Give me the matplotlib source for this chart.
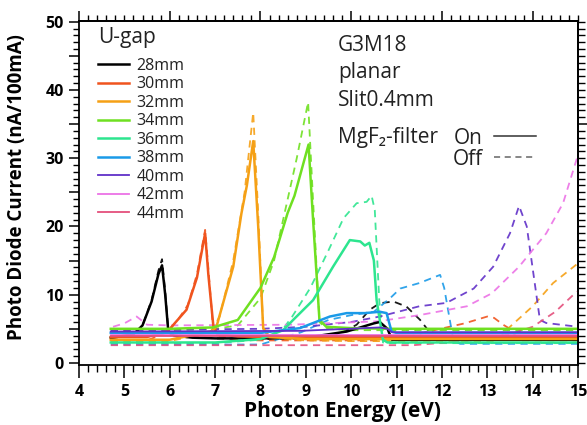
import matplotlib
matplotlib.use("Agg")
import matplotlib.pyplot as plt
from matplotlib.ticker import MultipleLocator, FixedLocator, FuncFormatter, NullFormatter
from matplotlib.lines import Line2D

plt.rcParams['font.family'] = ['Open Sans', 'DejaVu Sans']

# ---------------- data ----------------
gaps = ["28mm", "30mm", "32mm", "34mm", "36mm", "38mm", "40mm", "42mm", "44mm"]
colors = ["#000000", "#f0541e", "#f5a015", "#6fe021", "#2de58f",
          "#1a9ae8", "#6030c8", "#ec72e6", "#e44f7c"]

# MgF2 filter ON (solid)
x28_on = [4.7, 5.2, 5.4, 5.6, 5.75, 5.83, 5.9, 5.97, 6.1, 6.5, 7, 8, 9, 9.6, 9.9, 10.2, 10.5, 10.63, 10.8, 10.9, 15]
y28_on = [3.7, 4.2, 5.5, 9.0, 13.0, 14.3, 10.0, 4.5, 4.0, 3.7, 3.6, 3.6, 3.7, 4.3, 4.6, 5.2, 5.8, 6.0, 5.0, 3.4, 3.4]
x30_on = [4.7, 5.5, 5.95, 6.2, 6.37, 6.6, 6.78, 6.85, 6.96, 7.05, 7.5, 8, 9, 10, 10.9, 15]
y30_on = [3.8, 3.8, 4.6, 6.5, 7.8, 12.5, 19.0, 13.0, 5.5, 4.2, 3.9, 3.8, 3.8, 3.8, 3.8, 3.8]
x32_on = [4.7, 6, 6.9, 7.03, 7.4, 7.58, 7.7, 7.84, 7.95, 8.06, 8.2, 9, 10, 10.9, 15]
y32_on = [3.4, 3.4, 4.6, 5.3, 14.1, 21.9, 26.0, 32.5, 20.0, 5.1, 3.8, 3.5, 3.5, 3.5, 3.5]
x34_on = [4.7, 6, 6.95, 7.5, 8.0, 8.3, 8.6, 8.75, 9.06, 9.15, 9.3, 9.45, 10, 10.9, 15]
y34_on = [5.0, 5.0, 5.2, 6.3, 11.0, 15.5, 22.0, 24.5, 32.0, 22.0, 6.3, 5.3, 5.1, 5.0, 5.0]
x36_on = [4.7, 7, 8.0, 8.5, 8.72, 9.16, 9.6, 9.97, 10.2, 10.3, 10.4, 10.5, 10.56, 10.7, 10.8, 15]
y36_on = [3.0, 3.0, 3.5, 4.8, 6.3, 9.2, 14.1, 18.0, 17.8, 17.2, 17.6, 15.0, 9.2, 3.4, 3.0, 3.0]
x38_on = [4.7, 8, 8.87, 9.53, 9.9, 10.3, 10.63, 10.78, 10.89, 11.0, 15]
y38_on = [4.4, 4.4, 5.1, 6.8, 7.3, 7.3, 7.5, 7.3, 4.6, 4.4, 4.4]
x40_on = [4.7, 8.87, 10.63, 10.8, 10.9, 15]
y40_on = [4.6, 4.7, 5.2, 5.0, 4.5, 4.5]
x42_on = [4.7, 10.9, 15]
y42_on = [4.1, 4.1, 4.1]
x44_on = [4.7, 10.9, 15]
y44_on = [3.9, 3.9, 3.9]

# MgF2 filter OFF (dashed)
x28_off = [4.7, 5.2, 5.4, 5.6, 5.75, 5.83, 5.9, 5.97, 6.1, 6.5, 7, 8, 9, 9.5, 9.76, 10.12, 10.41, 10.63, 10.93, 11.22, 11.52, 11.66, 11.8, 15]
y28_off = [3.6, 4.1, 5.5, 9.2, 13.5, 15.2, 10.5, 4.6, 4.1, 3.8, 3.6, 3.5, 3.6, 3.9, 4.3, 5.6, 7.8, 8.75, 9.0, 8.25, 6.3, 5.1, 3.6, 3.6]
x30_off = [4.7, 5.5, 5.95, 6.2, 6.4, 6.6, 6.78, 6.85, 6.95, 7.05, 7.5, 8, 9, 10, 11, 11.7, 12.1, 12.5, 13.0, 13.15, 13.35, 13.5, 13.7, 15]
y30_off = [3.3, 3.3, 4.5, 6.5, 8.5, 13.0, 19.5, 14.0, 5.5, 4.0, 3.4, 3.3, 3.3, 3.3, 3.3, 4.6, 5.2, 5.8, 6.8, 6.6, 5.6, 5.0, 3.3, 3.3]
x32_off = [4.7, 6, 6.9, 7.1, 7.4, 7.65, 7.84, 7.95, 8.06, 8.2, 9, 10, 11, 12, 13.2, 13.5, 14.0, 14.45, 15]
y32_off = [3.2, 3.2, 4.5, 6.8, 15.0, 25.0, 36.7, 22.0, 5.0, 3.6, 3.3, 3.2, 3.2, 3.2, 3.2, 5.3, 8.3, 11.7, 14.6]
x34_off = [4.7, 6, 7.0, 7.5, 8.0, 8.3, 8.6, 8.8, 9.05, 9.15, 9.3, 9.45, 10, 11, 15]
y34_off = [4.8, 4.8, 5.0, 5.5, 9.5, 15.0, 24.0, 30.0, 38.2, 25.0, 6.0, 5.0, 4.8, 4.8, 4.8]
x36_off = [4.7, 7, 8.0, 8.5, 8.7, 9.1, 9.5, 9.83, 10.12, 10.34, 10.45, 10.52, 10.62, 10.7, 10.8, 15]
y36_off = [2.9, 2.9, 3.4, 5.0, 6.8, 11.0, 16.5, 21.2, 23.4, 23.6, 24.5, 22.4, 9.0, 3.0, 2.9, 2.9]
x38_off = [4.7, 8, 8.9, 9.5, 10.0, 10.5, 10.86, 11.08, 11.5, 11.96, 12.05, 12.25, 12.4, 15]
y38_off = [2.7, 2.7, 4.5, 6.3, 7.0, 7.5, 9.5, 10.9, 11.7, 12.9, 11.0, 3.4, 2.8, 2.8]
x40_off = [4.7, 8, 9, 10, 10.63, 11.5, 12.1, 12.7, 13.13, 13.5, 13.7, 13.87, 14.16, 14.3, 15]
y40_off = [4.8, 5.0, 5.3, 6.0, 6.8, 8.3, 8.8, 10.9, 14.1, 19.0, 23.0, 20.0, 6.3, 5.85, 5.3]
x42_off = [4.75, 5.0, 5.27, 5.5, 6, 8.65, 10.6, 11.5, 12.55, 13.1, 13.7, 14.3, 14.67, 15]
y42_off = [5.3, 5.8, 6.8, 5.6, 5.5, 5.6, 6.1, 7.0, 8.3, 10.2, 14.1, 19.0, 23.4, 30.5]
x44_off = [4.7, 8, 10, 11.37, 12.84, 13.5, 14.0, 14.5, 14.9, 15]
y44_off = [2.6, 2.6, 2.6, 2.6, 3.4, 4.2, 5.3, 7.5, 10.0, 10.5]

on_series = [(x28_on, y28_on), (x30_on, y30_on), (x32_on, y32_on), (x34_on, y34_on),
             (x36_on, y36_on), (x38_on, y38_on), (x40_on, y40_on), (x42_on, y42_on), (x44_on, y44_on)]
off_series = [(x28_off, y28_off), (x30_off, y30_off), (x32_off, y32_off), (x34_off, y34_off),
              (x36_off, y36_off), (x38_off, y38_off), (x40_off, y40_off), (x42_off, y42_off), (x44_off, y44_off)]
widths = [1.8, 1.8, 1.8, 1.8, 1.8, 1.8, 1.3, 1.3, 1.3]

# ---------------- figure ----------------
fig = plt.figure(figsize=(5.87, 4.25), dpi=100)
ax = fig.add_axes([0.1346, 0.1412, 0.8501, 0.8094])

handles = []
for (xs, ys), c, lw in zip(off_series, colors, widths):
    ax.plot(xs, ys, color=c, lw=1.3, ls=(0, (4, 3)), alpha=0.9)
for (xs, ys), c, lw, g in zip(on_series, colors, widths, gaps):
    h, = ax.plot(xs, ys, color=c, lw=lw, label=g)
    handles.append(h)

ax.set_xlim(4, 15)
ax.set_ylim(-0.3, 50.1)

for s in ax.spines.values():
    s.set_linewidth(1.3)

ax.xaxis.set_major_locator(MultipleLocator(1))
ax.xaxis.set_minor_locator(MultipleLocator(0.2))
ax.yaxis.set_major_locator(MultipleLocator(5))
ax.yaxis.set_minor_locator(MultipleLocator(1))
ax.yaxis.set_major_formatter(FuncFormatter(lambda v, p: f"{int(v)}" if abs(v % 10) < 1e-6 else ""))
ax.tick_params(which='major', direction='out', length=7, width=1.1, labelsize=11.5, pad=4)
ax.tick_params(which='minor', direction='out', length=4, width=1.0)
ax.tick_params(axis='x', which='major', length=9, pad=5)
ax.tick_params(axis='x', which='minor', length=5)
for lab in ax.get_xticklabels() + ax.get_yticklabels():
    lab.set_fontweight('bold')

top = ax.secondary_xaxis('top')
top.xaxis.set_major_locator(MultipleLocator(2))
top.xaxis.set_minor_locator(MultipleLocator(0.2))
top.xaxis.set_major_formatter(NullFormatter())
top.tick_params(which='major', direction='out', length=7, width=1.1)
top.tick_params(which='minor', direction='out', length=4, width=1.0)
top.spines['top'].set_linewidth(1.3)

right = ax.secondary_yaxis('right')
right.yaxis.set_major_locator(FixedLocator([35]))
right.yaxis.set_minor_locator(MultipleLocator(1))
right.yaxis.set_major_formatter(NullFormatter())
right.tick_params(which='major', direction='out', length=7, width=1.1)
right.tick_params(which='minor', direction='out', length=5, width=1.0)
right.spines['right'].set_linewidth(1.3)

ax.set_xlabel("Photon Energy (eV)", fontsize=15, fontweight='bold')
ax.xaxis.set_label_coords(0.529, -0.105)
ax.set_ylabel("Photo Diode Current (nA/100mA)", fontsize=13.5, fontweight='bold')
ax.yaxis.set_label_coords(-0.105, 0.517)

# legend for U-gap
ax.text(0.039, 0.952, "U-gap", transform=ax.transAxes, fontsize=15, color="#222222",
        ha='left', va='center')
leg = ax.legend(handles=handles, loc='upper left', bbox_to_anchor=(0.038, 0.893),
                frameon=False, fontsize=11.5, handlelength=1.95, handletextpad=0.45,
                labelspacing=0.155, borderpad=0, borderaxespad=0)
for t in leg.get_texts():
    t.set_color("#222222")
ax.add_artist(leg)

# annotations
txt_kw = dict(transform=ax.transAxes, fontsize=15, color="#222222", ha='left', va='center')
ax.text(0.519, 0.930, "G3M18", **txt_kw)
ax.text(0.519, 0.849, "planar", **txt_kw)
ax.text(0.519, 0.770, "Slit0.4mm", **txt_kw)
ax.text(0.519, 0.660, "MgF\u2082-filter", **txt_kw)

onoff = [Line2D([], [], color="#333333", lw=1.1),
         Line2D([], [], color="#666666", lw=1.1, ls=(0, (4, 3)))]
leg2 = ax.legend(handles=onoff, labels=["On", "Off"], loc='upper left',
                 bbox_to_anchor=(0.748, 0.69), frameon=False, fontsize=15,
                 markerfirst=False, handlelength=2.0, handletextpad=0.55,
                 labelspacing=0.0, borderpad=0, borderaxespad=0)
for t in leg2.get_texts():
    t.set_color("#222222")

fig.savefig("out.png", dpi=100)
